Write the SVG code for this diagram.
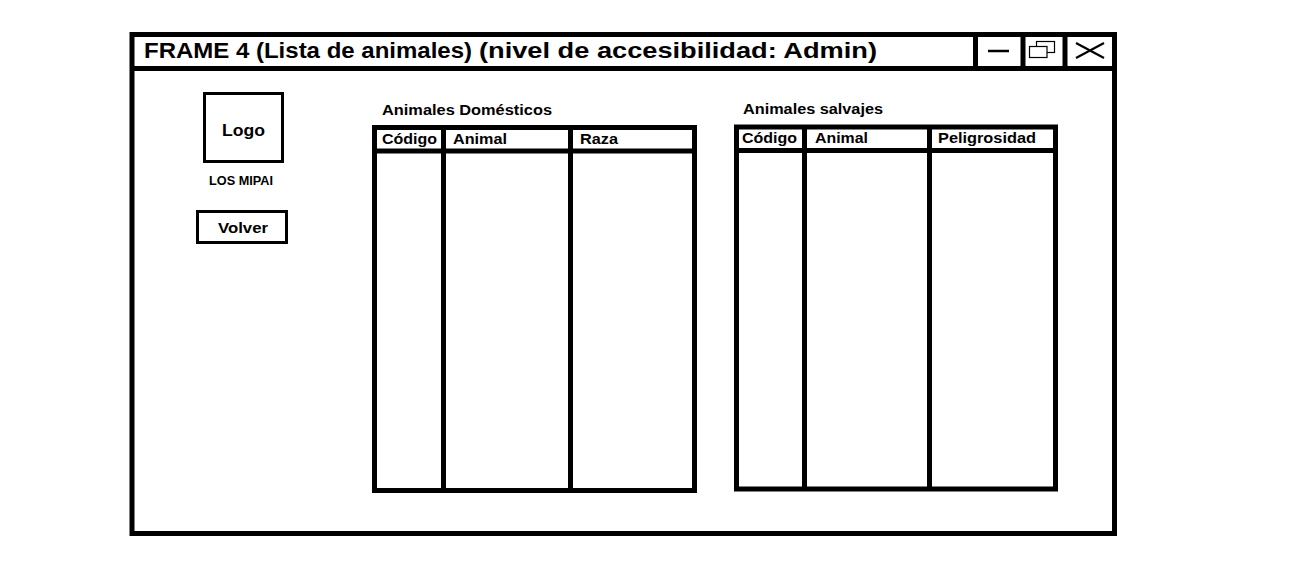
<svg xmlns="http://www.w3.org/2000/svg" width="1290" height="584" viewBox="0 0 1290 584">
<style>
.bg{fill:#fff}
.thick{fill:none;stroke:#000;stroke-width:5}
.mid{fill:none;stroke:#000;stroke-width:3}
.thin{fill:#fff;stroke:#000;stroke-width:1.2}
text{font-family:"Liberation Sans",Arial,sans-serif;fill:#000}
.b{font-weight:bold}
.hdr{font-size:14px;font-weight:bold}
</style>
<rect class="bg" x="0" y="0" width="1290" height="584"/>
<g id="window">
  <rect class="thick" x="132" y="34.5" width="982.5" height="499"/>
  <line class="thick" x1="132" y1="68.5" x2="1114.5" y2="68.5"/>
  <line class="thick" x1="975.5" y1="34.5" x2="975.5" y2="68.5"/>
  <line class="thick" x1="1023" y1="34.5" x2="1023" y2="68.5"/>
  <line class="thick" x1="1065" y1="34.5" x2="1065" y2="68.5"/>
  <text class="b" x="144" y="58" font-size="22" textLength="328" lengthAdjust="spacingAndGlyphs">FRAME 4 (Lista de animales)</text>
  <text class="b" x="479" y="58" font-size="22" textLength="398" lengthAdjust="spacingAndGlyphs">(nivel de accesibilidad: Admin)</text>
</g>
<g id="btn-minimize">
  <line x1="988" y1="51" x2="1009" y2="51" stroke="#000" stroke-width="2.5"/>
</g>
<g id="btn-restore">
  <rect class="thin" x="1036.5" y="41.5" width="18" height="11"/>
  <rect class="thin" x="1029.5" y="46.5" width="17.5" height="11"/>
</g>
<g id="btn-close">
  <line x1="1076" y1="43" x2="1104" y2="58" stroke="#000" stroke-width="2.2"/>
  <line x1="1076" y1="58" x2="1104" y2="43" stroke="#000" stroke-width="2.2"/>
</g>
<g id="logo">
  <rect class="mid" x="204.5" y="93.5" width="78" height="68"/>
  <text class="b" x="243.5" y="136" font-size="17" text-anchor="middle" textLength="43" lengthAdjust="spacingAndGlyphs">Logo</text>
</g>
<g id="brand">
  <text class="b" x="241" y="185" font-size="12" text-anchor="middle" textLength="64" lengthAdjust="spacingAndGlyphs">LOS MIPAI</text>
</g>
<g id="btn-volver">
  <rect class="mid" x="197.5" y="211.5" width="89" height="31"/>
  <text class="b" x="243" y="233" font-size="15" text-anchor="middle" textLength="50" lengthAdjust="spacingAndGlyphs">Volver</text>
</g>
<g id="table-domesticos">
  <text class="b" x="382" y="115" font-size="14" textLength="170" lengthAdjust="spacingAndGlyphs">Animales Domésticos</text>
  <rect class="thick" x="374.5" y="127.5" width="320" height="363"/>
  <line class="thick" x1="374.5" y1="151" x2="694.5" y2="151"/>
  <line class="thick" x1="443.5" y1="127.5" x2="443.5" y2="490.5"/>
  <line class="thick" x1="570.5" y1="127.5" x2="570.5" y2="490.5"/>
  <text class="hdr" x="382" y="144" textLength="55" lengthAdjust="spacingAndGlyphs">Código</text>
  <text class="hdr" x="453" y="144" textLength="54" lengthAdjust="spacingAndGlyphs">Animal</text>
  <text class="hdr" x="580" y="144" textLength="38" lengthAdjust="spacingAndGlyphs">Raza</text>
</g>
<g id="table-salvajes">
  <text class="b" x="743" y="114" font-size="14" textLength="140" lengthAdjust="spacingAndGlyphs">Animales salvajes</text>
  <rect class="thick" x="736.5" y="127" width="319" height="362"/>
  <line class="thick" x1="736.5" y1="150.5" x2="1055.5" y2="150.5"/>
  <line class="thick" x1="804.5" y1="127" x2="804.5" y2="489"/>
  <line class="thick" x1="929.5" y1="127" x2="929.5" y2="489"/>
  <text class="hdr" x="742" y="143" textLength="55" lengthAdjust="spacingAndGlyphs">Código</text>
  <text class="hdr" x="815" y="143" textLength="53" lengthAdjust="spacingAndGlyphs">Animal</text>
  <text class="hdr" x="938" y="143" textLength="98" lengthAdjust="spacingAndGlyphs">Peligrosidad</text>
</g>
<g id="connectors"></g>
</svg>
